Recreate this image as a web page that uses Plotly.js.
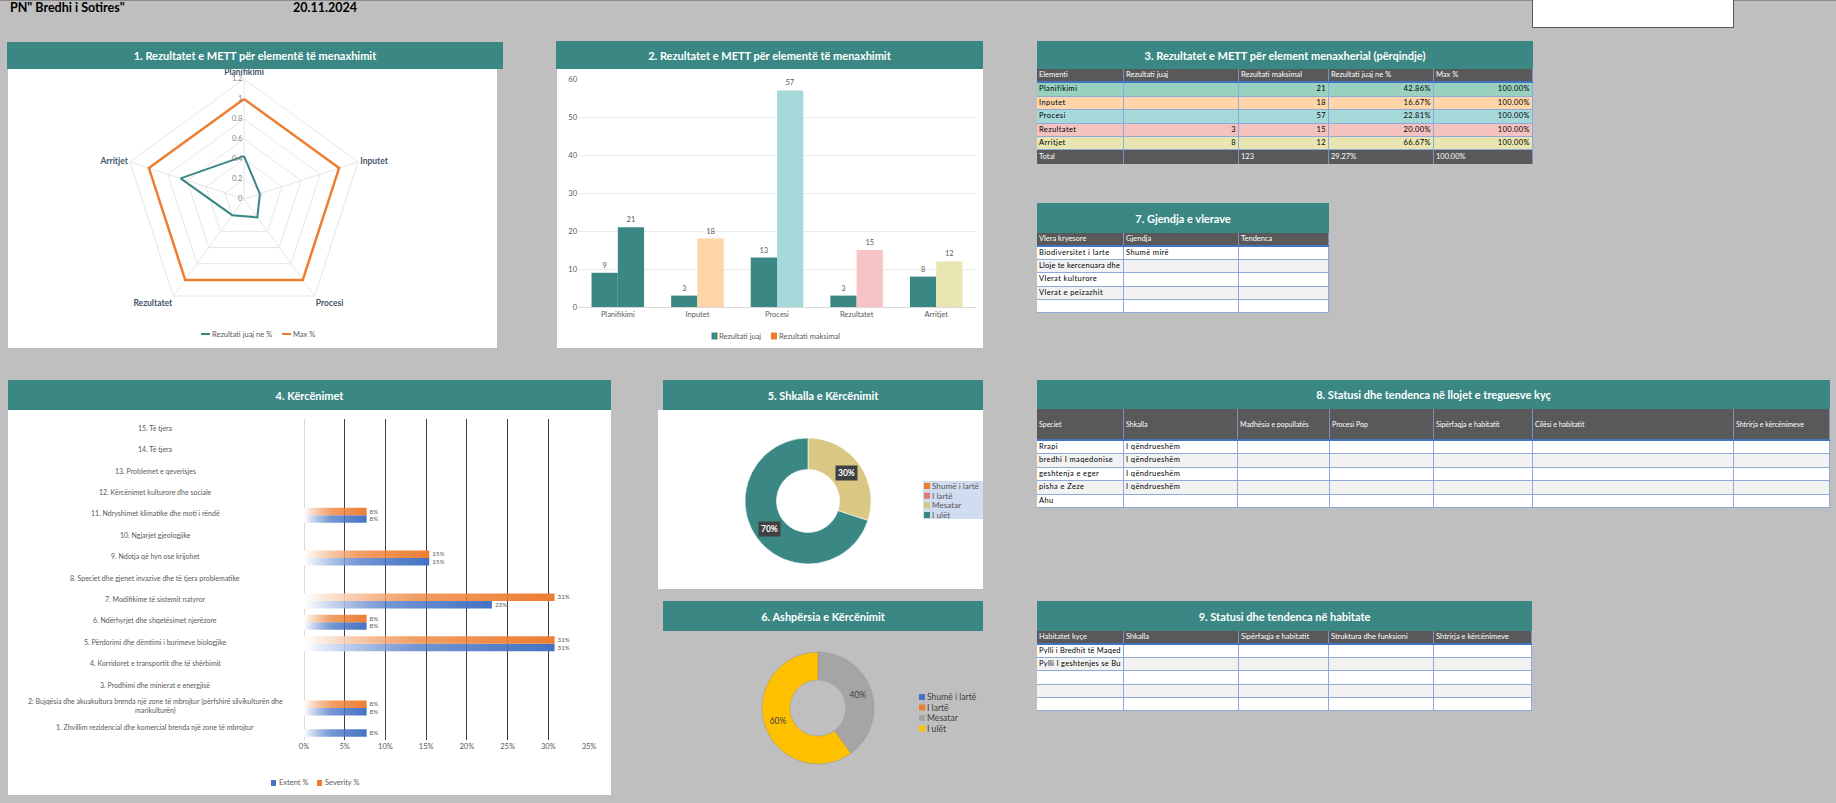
<!DOCTYPE html>
<html><head><meta charset="utf-8">
<script src="https://cdn.plot.ly/plotly-3.0.1.min.js"></script>
<style>
body{margin:0;background:#bfbfbf;width:1836px;height:803px;overflow:hidden;position:relative;font-family:Lato,'Noto Sans',sans-serif;}
.topline{position:absolute;left:0;top:0;width:1836px;height:1px;background:#8c8c8c;}
.ptxt{position:absolute;top:0;font-weight:bold;font-size:12.5px;color:#000;line-height:16px;}
.hdr{position:absolute;background:#3a8784;color:#fff;font-weight:bold;font-size:11px;display:flex;align-items:center;justify-content:center;z-index:5;white-space:nowrap;}
.wbody{position:absolute;background:#fff;}
.plot{position:absolute;z-index:3;}
.tbl{position:absolute;z-index:4;}
.row{display:flex;}
.cell{box-sizing:border-box;overflow:hidden;white-space:nowrap;padding:0 2px;border-right:1px solid #8eaadb;border-bottom:1px solid #8eaadb;font-size:7.5px;letter-spacing:0.4px;color:#000;}
.hcell{box-sizing:border-box;overflow:hidden;white-space:nowrap;padding:0 2px;background:#595959;color:#fff;border-right:1px solid #7f93b8;font-size:7.5px;}
</style>
</head><body>
<div class="topline"></div>
<div class="ptxt" style="left:10px;">PN" Bredhi i Sotires"</div>
<div class="ptxt" style="left:293px;">20.11.2024</div>
<div style="position:absolute;left:1532px;top:-1px;width:200px;height:27px;background:#fff;border:1px solid #595959;"></div>

<div class="hdr" style="left:7px;top:42px;width:496px;height:27px;">1. Rezultatet e METT për elementë të menaxhimit</div>
<div class="wbody" style="left:8px;top:69px;width:489px;height:279px;"></div>
<div id="radar" class="plot" style="left:8px;top:55px;"></div>

<div class="hdr" style="left:556px;top:41px;width:427px;height:28px;">2. Rezultatet e METT për elementë të menaxhimit</div>
<div class="wbody" style="left:557px;top:69px;width:426px;height:279px;"></div>
<div id="bars" class="plot" style="left:556px;top:69px;"></div>

<div class="hdr" style="left:8px;top:380px;width:603px;height:30px;">4. Kërcënimet</div>
<div class="wbody" style="left:8px;top:410px;width:603px;height:385px;"></div>
<div id="threats" class="plot" style="left:8px;top:410px;"></div>

<div class="hdr" style="left:663px;top:380px;width:320px;height:30px;">5. Shkalla e Kërcënimit</div>
<div class="wbody" style="left:658px;top:410px;width:325px;height:179px;"></div>
<div id="pie5" class="plot" style="left:658px;top:410px;"></div>

<div class="hdr" style="left:663px;top:601px;width:320px;height:30px;">6. Ashpërsia e Kërcënimit</div>
<div id="pie6" class="plot" style="left:658px;top:631px;"></div>

<div id="tables"></div>

<script>
// ---------- DATA ----------
const elements = ['Planifikimi', 'Inputet', 'Procesi', 'Rezultatet', 'Arritjet'];
const rezultatiJuaj = [9, 3, 13, 3, 8];
const rezultatiMaksimal = [21, 18, 57, 15, 12];
const rezultatiJuajPct = [0.4286, 0.1667, 0.2281, 0.2000, 0.6667];
const maxPct = [1, 1, 1, 1, 1];
const radarSeriesNames = ['Rezultati juaj ne %', 'Max %'];
const barSeriesNames = ['Rezultati juaj', 'Rezultati maksimal'];

const t3Columns = ['Elementi', 'Rezultati juaj', 'Rezultati maksimal', 'Rezultati juaj ne %', 'Max %'];
const t3Juaj = ['', '', '', '3', '8'];
const t3Maks = ['21', '18', '57', '15', '12'];
const t3Pct = ['42.86%', '16.67%', '22.81%', '20.00%', '66.67%'];
const t3MaxPct = ['100.00%', '100.00%', '100.00%', '100.00%', '100.00%'];
const t3Total = ['Total', '', '123', '29.27%', '100.00%'];

const threatCategories = [
  '1. Zhvillim rezidencial dhe komercial brenda një zone të mbrojtur',
  '2: Bujqësia dhe akuakultura brenda një zone të mbrojtur (përfshirë silvikulturën dhe<br>marikulturën)',
  '3. Prodhimi dhe minierat e energjisë',
  '4. Korridoret e transportit dhe të shërbimit',
  '5. Përdorimi dhe dëmtimi i burimeve biologjike',
  '6. Ndërhyrjet dhe shqetësimet njerëzore',
  '7. Modifikime të sistemit natyror',
  '8. Speciet dhe gjenet invazive dhe të tjera problematike',
  '9. Ndotja që hyn ose krijohet',
  '10. Ngjarjet gjeologjike',
  '11. Ndryshimet klimatike dhe moti i rëndë',
  '12. Kërcënimet kulturore dhe sociale',
  '13. Problemet e qeverisjes',
  '14. Të tjera',
  '15. Të tjera'
];
const extentPct   = [7.69, 7.69, null, null, 30.77, 7.69, 23.08, null, 15.38, null, 7.69, null, null, null, null];
const severityPct = [null, 7.69, null, null, 30.77, 7.69, 30.77, null, 15.38, null, 7.69, null, null, null, null];
const threatSeriesNames = ['Extent %', 'Severity %'];

const shkallaLabels = ['Shumë i lartë', 'I lartë', 'Mesatar', 'I ulët'];
const shkallaValues = [0, 0, 30, 70];
const ashpersiaLabels = ['Shumë i lartë', 'I lartë', 'Mesatar', 'I ulët'];
const ashpersiaValues = [0, 0, 40, 60];

const t7Columns = ['Vlera kryesore', 'Gjendja', 'Tendenca'];
const t7Vlera = ['Biodiversitet i larte', 'Lloje te kercenuara dhe', 'Vlerat kulturore', 'Vlerat e peizazhit', ''];
const t7Gjendja = ['Shumë mirë', '', '', '', ''];

const t8Columns = ['Speciet', 'Shkalla', 'Madhësia e popullatës', 'Procesi Pop', 'Sipërfaqja e habitatit', 'Cilësi e habitatit', 'Shtrirja e kërcënimeve'];
const t8Species = ['Rrapi', 'bredhi I maqedonise', 'geshtenja e eger', 'pisha e Zeze', 'Ahu'];
const t8Shkalla = ['I qëndrueshëm', 'I qëndrueshëm', 'I qëndrueshëm', 'I qëndrueshëm', ''];

const t9Columns = ['Habitatet kyçe', 'Shkalla', 'Sipërfaqja e habitatit', 'Struktura dhe funksioni', 'Shtrirja e kërcënimeve'];
const t9Habitats = ['Pylli i Bredhit të Maqed', 'Pylli I geshtenjes se Bu', '', '', ''];

// ---------- STYLE ----------
const TEAL = '#3a8784', ORANGE = '#ed7d31', BLUE = '#4472c4';
const FONT = 'Lato, Noto Sans, sans-serif';
const maksColors = ['#3a8784', '#fdd5a9', '#a5d9d9', '#f8c3c5', '#e8e5b0'];
const t3RowColors = ['#98d1bf', '#fdd5a9', '#a5d9d9', '#f4c3c0', '#e8e5b0'];
const shkallaColors = ['#ed7d31', '#e07b6f', '#d9c783', '#3a8784'];
const ashpersiaColors = ['#4472c4', '#ed7d31', '#a5a5a5', '#ffc000'];
const cfg = {displayModeBar: false, staticPlot: true};

function conv(W, H, m) {
  const pw = W - m.l - m.r, ph = H - m.t - m.b;
  return {x: px => (px - m.l) / pw, y: py => (H - m.b - py) / ph};
}
function legendParts(c, items, o) {
  const shapes = [], anns = [];
  items.forEach(it => {
    if (it.kind === 'line') {
      shapes.push({type: 'line', xref: 'paper', yref: 'paper', x0: c.x(it.sx), x1: c.x(it.sx + o.sw), y0: c.y(it.y), y1: c.y(it.y), line: {color: it.color, width: 2}});
    } else {
      shapes.push({type: 'rect', xref: 'paper', yref: 'paper', x0: c.x(it.sx), x1: c.x(it.sx + o.sw), y0: c.y(it.y + o.sh / 2), y1: c.y(it.y - o.sh / 2), fillcolor: it.color, line: {width: 0}});
    }
    anns.push({xref: 'paper', yref: 'paper', x: c.x(it.tx), y: c.y(it.y), text: it.label, showarrow: false, xanchor: 'left', yanchor: 'middle', borderpad: 0, font: {family: FONT, size: o.fs, color: o.fc}});
  });
  return {shapes, anns};
}

// ---------- 1. RADAR ----------
(function () {
  const W = 489, H = 293, m = {l: 0, r: 0, t: 0, b: 0};
  const close = a => a.concat([a[0]]);
  const c = conv(W, H, m);
  const lg = legendParts(c, [
    {kind: 'line', color: TEAL, sx: 193, tx: 203, y: 279, label: radarSeriesNames[0]},
    {kind: 'line', color: ORANGE, sx: 274, tx: 284, y: 279, label: radarSeriesNames[1]}
  ], {sw: 9, fs: 7.5, fc: '#595959'});
  Plotly.newPlot('radar', [
    {type: 'scatterpolar', r: close(rezultatiJuajPct), theta: close(elements), mode: 'lines', line: {color: TEAL, width: 2}, name: radarSeriesNames[0]},
    {type: 'scatterpolar', r: close(maxPct), theta: close(elements), mode: 'lines', line: {color: ORANGE, width: 2.5}, name: radarSeriesNames[1]}
  ], {
    width: W, height: H, margin: m, paper_bgcolor: 'rgba(0,0,0,0)', showlegend: false,
    font: {family: FONT},
    polar: {
      domain: {x: [116 / W, 356 / W], y: [29 / H, 269 / H]},
      bgcolor: 'rgba(0,0,0,0)', gridshape: 'linear',
      radialaxis: {range: [0, 1.2], dtick: 0.2, angle: 90, tickangle: 90, side: 'counterclockwise', showline: false, ticks: '', gridcolor: '#e6e6e6', tickfont: {size: 7.5, color: '#7f7f7f'}},
      angularaxis: {rotation: 90, direction: 'clockwise', gridcolor: '#e6e6e6', linecolor: '#e6e6e6', ticks: '', tickfont: {size: 8.5, color: '#44546a', weight: 'bold'}}
    },
    shapes: lg.shapes, annotations: lg.anns
  }, cfg);
})();

// ---------- 2. BARS ----------
(function () {
  const W = 428, H = 279, m = {l: 22, r: 8, t: 10, b: 41};
  const c = conv(W, H, m);
  const lg = legendParts(c, [
    {color: TEAL, sx: 155.5, tx: 162, y: 267, label: barSeriesNames[0]},
    {color: ORANGE, sx: 215, tx: 221.5, y: 267, label: barSeriesNames[1]}
  ], {sw: 6, sh: 7, fs: 7.5, fc: '#595959'});
  Plotly.newPlot('bars', [
    {type: 'bar', x: elements, y: rezultatiJuaj, name: barSeriesNames[0], marker: {color: TEAL}, text: rezultatiJuaj.map(String), textposition: 'outside', textfont: {size: 7.5, color: '#595959'}, cliponaxis: false},
    {type: 'bar', x: elements, y: rezultatiMaksimal, name: barSeriesNames[1], marker: {color: maksColors}, text: rezultatiMaksimal.map(String), textposition: 'outside', textfont: {size: 7.5, color: '#595959'}, cliponaxis: false}
  ], {
    width: W, height: H, margin: m, paper_bgcolor: 'rgba(0,0,0,0)', plot_bgcolor: 'rgba(0,0,0,0)', showlegend: false,
    font: {family: FONT}, barmode: 'group', bargap: 0.34, bargroupgap: 0,
    xaxis: {showline: true, linecolor: '#d9d9d9', ticks: '', tickfont: {size: 7.5, color: '#595959'}, fixedrange: true},
    yaxis: {range: [0, 60], dtick: 10, gridcolor: '#ebebeb', zeroline: false, ticks: '', tickfont: {size: 7.5, color: '#595959'}},
    shapes: lg.shapes, annotations: lg.anns
  }, cfg);
})();

// ---------- 4. THREATS ----------
(function () {
  const W = 603, H = 385, m = {l: 296, r: 22, t: 9, b: 55};
  const c = conv(W, H, m);
  const lg = legendParts(c, [
    {color: BLUE, sx: 263, tx: 270, y: 373, label: threatSeriesNames[0]},
    {color: ORANGE, sx: 309, tx: 316, y: 373, label: threatSeriesNames[1]}
  ], {sw: 5, sh: 6, fs: 7.5, fc: '#595959'});
  const catAnns = threatCategories.map(t => ({
    xref: 'paper', yref: 'y', x: c.x(147), y: t, text: t, showarrow: false, xanchor: 'center', yanchor: 'middle', yshift: 2,
    font: {family: FONT, size: 7, color: '#595959'}
  }));
  Plotly.newPlot('threats', [
    {type: 'bar', orientation: 'h', y: threatCategories, x: extentPct, name: threatSeriesNames[0], marker: {color: BLUE}, texttemplate: '%{x:.0f}%', textposition: 'outside', textfont: {size: 7.5, color: '#595959'}, cliponaxis: false},
    {type: 'bar', orientation: 'h', y: threatCategories, x: severityPct, name: threatSeriesNames[1], marker: {color: ORANGE}, texttemplate: '%{x:.0f}%', textposition: 'outside', textfont: {size: 7.5, color: '#595959'}, cliponaxis: false}
  ], {
    width: W, height: H, margin: m, paper_bgcolor: 'rgba(0,0,0,0)', plot_bgcolor: 'rgba(0,0,0,0)', showlegend: false,
    font: {family: FONT}, barmode: 'group', bargap: 0.3, bargroupgap: 0,
    xaxis: {range: [0, 35], dtick: 5, ticksuffix: '%', showgrid: true, gridcolor: '#404040', gridwidth: 1, zeroline: true, zerolinecolor: '#d9d9d9', zerolinewidth: 1, ticks: '', tickfont: {size: 7.5, color: '#595959'}},
    yaxis: {showticklabels: false, showgrid: false, zeroline: false, ticks: '', categoryorder: 'array', categoryarray: threatCategories},
    shapes: lg.shapes, annotations: lg.anns.concat(catAnns)
  }, cfg).then(gd => {
    const svg = gd.querySelector('svg.main-svg');
    const ns = 'http://www.w3.org/2000/svg';
    const defs = document.createElementNS(ns, 'defs');
    [['gE', BLUE], ['gS', ORANGE]].forEach(([id, col]) => {
      const g = document.createElementNS(ns, 'linearGradient');
      g.setAttribute('id', id); g.setAttribute('x1', '0'); g.setAttribute('x2', '1'); g.setAttribute('y1', '0'); g.setAttribute('y2', '0');
      [['0', '#ffffff', 1], ['0.45', col, 0.75], ['1', col, 1]].forEach(([o, cc, op]) => {
        const s = document.createElementNS(ns, 'stop');
        s.setAttribute('offset', o); s.setAttribute('stop-color', cc); s.setAttribute('stop-opacity', op);
        g.appendChild(s);
      });
      defs.appendChild(g);
    });
    svg.insertBefore(defs, svg.firstChild);
    const traces = gd.querySelectorAll('.barlayer .trace');
    traces.forEach((tr, i) => {
      tr.querySelectorAll('.point path').forEach(p => { p.style.fill = i === 0 ? 'url(#gE)' : 'url(#gS)'; });
    });
  });
})();

// ---------- 5 & 6. DONUTS ----------
function donut(id, W, H, cx, cy, r, labels, values, colors, lineCol, legendY, legendSX, legendFC, legendFS, boxed, legendBg) {
  const m = {l: 0, r: 0, t: 0, b: 0};
  const c = conv(W, H, m);
  const items = labels.map((l, i) => ({color: colors[i], sx: legendSX, tx: legendSX + 7, y: legendY[i], label: l}));
  const lg = legendParts(c, items, {sw: 6, sh: 6, fs: legendFS, fc: legendFC});
  let shapes = lg.shapes, anns = lg.anns;
  if (legendBg) shapes = [{type: 'rect', xref: 'paper', yref: 'paper', fillcolor: '#d0dcef', line: {width: 0}, layer: 'below',
    x0: c.x(legendBg[0]), x1: c.x(legendBg[1]), y0: c.y(legendBg[3]), y1: c.y(legendBg[2])}].concat(shapes);
  const total = values.reduce((a, b) => a + b, 0);
  let trace = {type: 'pie', labels: labels, values: values, hole: 0.5, sort: false, direction: 'clockwise', rotation: 0,
    marker: {colors: colors, line: {color: lineCol, width: 0.6}}, showlegend: false,
    domain: {x: [(cx - r) / W, (cx + r) / W], y: [(H - cy - r) / H, (H - cy + r) / H]}};
  if (boxed) {
    trace.textinfo = 'none';
    let cum = 0;
    values.forEach(v => {
      if (v > 0) {
        const a = 2 * Math.PI * (cum + v / 2) / total, rm = r * 0.75;
        anns.push({xref: 'paper', yref: 'paper', x: c.x(cx + rm * Math.sin(a)), y: c.y(cy - rm * Math.cos(a)), text: '<b>' + Math.round(100 * v / total) + '%</b>',
          showarrow: false, bgcolor: '#404040', borderpad: 2, font: {family: FONT, size: 8.5, color: '#fff'}});
      }
      cum += v;
    });
  } else {
    trace.texttemplate = values.map(v => v > 0 ? '%{percent:.0%}' : '');
    trace.textposition = 'inside';
    trace.insidetextorientation = 'horizontal';
    trace.insidetextfont = {family: FONT, size: 8.5, color: '#404040'};
  }
  Plotly.newPlot(id, [trace], {width: W, height: H, margin: m, paper_bgcolor: 'rgba(0,0,0,0)', font: {family: FONT}, shapes: shapes, annotations: anns}, cfg);
}
donut('pie5', 325, 179, 150, 91, 63, shkallaLabels, shkallaValues, shkallaColors, '#ffffff', [76, 85.7, 95.4, 105], 266, '#595959', 8.2, true, [265, 325, 71, 109]);
donut('pie6', 325, 172, 160, 77, 56, ashpersiaLabels, ashpersiaValues, ashpersiaColors, '#9a9a9a', [66, 76.5, 87, 97.5], 261, '#404040', 8.6, false, null);

// ---------- TABLES ----------
function fitCell(d) {
  let ls = 0.4, fs = 7.5;
  while (d.scrollWidth > d.clientWidth && ls > 0) { ls = Math.max(0, ls - 0.1); d.style.letterSpacing = ls + 'px'; }
  while (d.scrollWidth > d.clientWidth && fs > 6) { fs -= 0.25; d.style.fontSize = fs + 'px'; }
}
function makeTable(o) {
  const wrap = document.createElement('div');
  wrap.className = 'tbl';
  const totalW = o.widths.reduce((a, b) => a + b, 0);
  wrap.style.left = o.left + 'px'; wrap.style.top = o.top + 'px'; wrap.style.width = totalW + 'px';
  const t = document.createElement('div');
  t.className = 'hdr'; t.style.position = 'relative'; t.style.width = totalW + 'px'; t.style.height = o.titleH + 'px';
  t.textContent = o.title; wrap.appendChild(t);
  const hr = document.createElement('div'); hr.className = 'row'; hr.style.height = o.headH + 'px';
  hr.style.borderBottom = '2px solid #4472c4'; hr.style.boxSizing = 'border-box';
  o.columns.forEach((col, i) => {
    const d = document.createElement('div'); d.className = 'hcell'; d.style.width = o.widths[i] + 'px';
    d.style.lineHeight = (o.headH - 2) + 'px'; d.textContent = col;
    if (o.headFont) d.style.fontSize = o.headFont;
    hr.appendChild(d);
  });
  wrap.appendChild(hr);
  const cells = [];
  o.rows.forEach((row, ri) => {
    const r = document.createElement('div'); r.className = 'row'; r.style.height = o.rowH[ri] + 'px';
    row.forEach((v, ci) => {
      const d = document.createElement('div'); d.className = 'cell'; d.style.width = o.widths[ci] + 'px';
      d.style.lineHeight = (o.rowH[ri] - 1) + 'px'; d.style.background = o.rowBg[ri];
      if (o.align && o.align[ci] === 'right') d.style.textAlign = 'right';
      d.textContent = v; r.appendChild(d); cells.push(d);
    });
    wrap.appendChild(r);
  });
  if (o.total) {
    const r = document.createElement('div'); r.className = 'row'; r.style.height = o.totalH + 'px';
    o.total.forEach((v, ci) => {
      const d = document.createElement('div'); d.className = 'hcell'; d.style.width = o.widths[ci] + 'px';
      d.style.lineHeight = o.totalH + 'px'; d.textContent = v; r.appendChild(d);
    });
    wrap.appendChild(r);
  }
  document.getElementById('tables').appendChild(wrap);
  cells.forEach(fitCell);
}
const zebra = ['#ffffff', '#f2f2f2', '#ffffff', '#f2f2f2', '#ffffff'];
const five = [0, 1, 2, 3, 4];

makeTable({left: 1037, top: 41, widths: [87, 115, 90, 105, 99], title: '3. Rezultatet e METT për element menaxherial (përqindje)', titleH: 28, headH: 14,
  columns: t3Columns, rows: five.map(i => [elements[i], t3Juaj[i], t3Maks[i], t3Pct[i], t3MaxPct[i]]),
  rowH: [13.5, 13.5, 13.5, 13.5, 13], rowBg: t3RowColors, align: ['left', 'right', 'right', 'right', 'right'], total: t3Total, totalH: 14});

makeTable({left: 1037, top: 203, widths: [87, 115, 90], title: '7. Gjendja e vlerave', titleH: 30, headH: 14,
  columns: t7Columns, rows: five.map(i => [t7Vlera[i], t7Gjendja[i], '']), rowH: [13.2, 13.2, 13.2, 13.2, 13.2], rowBg: zebra});

makeTable({left: 1037, top: 380, widths: [87, 114, 92, 104, 99, 201, 96], title: '8. Statusi dhe tendenca në llojet e treguesve kyç', titleH: 29, headH: 32, headFont: '7px',
  columns: t8Columns, rows: five.map(i => [t8Species[i], t8Shkalla[i], '', '', '', '', '']), rowH: [13.4, 13.4, 13.4, 13.4, 13.4], rowBg: zebra});

makeTable({left: 1037, top: 601, widths: [87, 115, 90, 105, 98], title: '9. Statusi dhe tendenca në habitate', titleH: 30, headH: 14,
  columns: t9Columns, rows: five.map(i => [t9Habitats[i], '', '', '', '']), rowH: [13.2, 13.2, 13.2, 13.2, 13.2], rowBg: zebra});
</script>
</body></html>
